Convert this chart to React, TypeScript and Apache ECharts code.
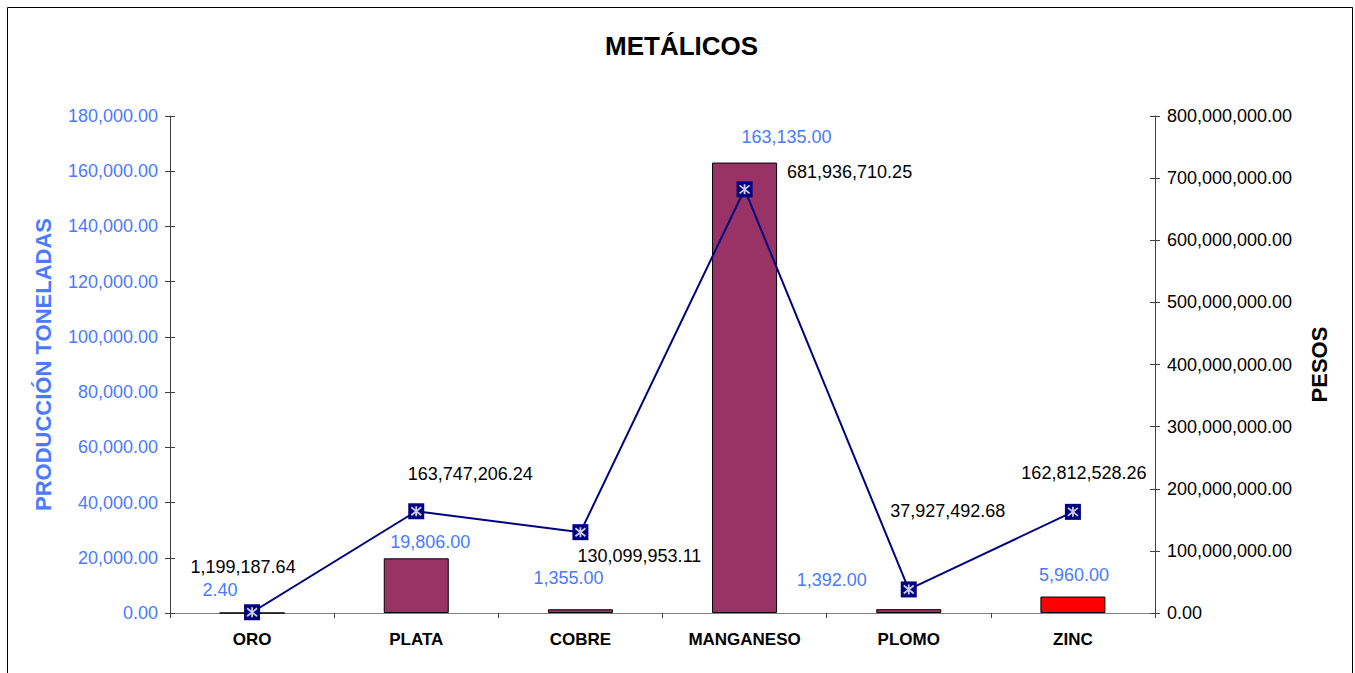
import React, { useEffect, useRef } from "react";
import * as echarts from "echarts";

const categories = ["ORO", "PLATA", "COBRE", "MANGANESO", "PLOMO", "ZINC"];
const production = [2.4, 19806, 1355, 163135, 1392, 5960];
const pesos = [1199187.64, 163747206.24, 130099953.11, 681936710.25, 37927492.68, 162812528.26];
const barColors = ["#993366", "#993366", "#993366", "#993366", "#993366", "#ff0000"];
const prodLabelOffsets = [[-32, -22], [14, -16], [-12, -31], [42, -26], [-77, -29], [1, -22]];
const pesosLabelOffsets = [[-9, -45], [54, -37], [59, 24], [105, -17], [39, -78], [11, -39]];

const BLUE = "#4a7aff";
const FONT = "Liberation Sans, Arial, sans-serif";

function fmt(n: number): string {
  const s = n.toFixed(2);
  const [i, d] = s.split(".");
  return i.replace(/\B(?=(\d{3})+(?!\d))/g, ",") + "." + d;
}

export default function App() {
  const ref = useRef<HTMLDivElement>(null);
  useEffect(() => {
    if (!ref.current) return;
    const chart = echarts.init(ref.current, null, { renderer: "svg" });
    const baseY = {
      type: "value" as const,
      splitLine: { show: false },
    };
    chart.setOption({
      animation: false,
      textStyle: { fontFamily: FONT },
      title: {
        text: "METÁLICOS",
        left: 600,
        top: 28,
        textStyle: { fontSize: 26, fontWeight: "bold", color: "#000", fontFamily: FONT },
      },
      graphic: [
        {
          type: "rect",
          shape: { x: 7.5, y: 7.5, width: 1345, height: 700 },
          style: { fill: "none", stroke: "#000", lineWidth: 1 },
          silent: true,
        },
      ],
      grid: { left: 170, right: 200, top: 116, bottom: 60 },
      xAxis: {
        type: "category",
        data: categories,
        axisLine: { lineStyle: { color: "#808080", width: 1 } },
        axisTick: { show: true, length: 5, lineStyle: { color: "#404040" } },
        axisLabel: { fontSize: 17, fontWeight: "bold", color: "#000", margin: 18, fontFamily: FONT },
      },
      yAxis: [
        {
          ...baseY,
          min: 0,
          max: 180000,
          interval: 20000,
          position: "left",
          name: "PRODUCCIÓN TONELADAS",
          nameLocation: "middle",
          nameRotate: 90,
          nameGap: 116,
          nameTextStyle: { fontSize: 22, fontWeight: "bold", color: BLUE, fontFamily: FONT },
          axisLine: { show: true, lineStyle: { color: "#404040" } },
          axisTick: { show: true, length: 5, lineStyle: { color: "#404040" } },
          axisLabel: { formatter: (v: number) => fmt(v), fontSize: 18, color: BLUE, margin: 12, fontFamily: FONT },
        },
        {
          ...baseY,
          min: 0,
          max: 800000000,
          interval: 100000000,
          position: "right",
          name: "PESOS",
          nameLocation: "middle",
          nameRotate: 90,
          nameGap: 153,
          nameTextStyle: { fontSize: 22, fontWeight: "bold", color: "#000", fontFamily: FONT },
          axisLine: { show: true, lineStyle: { color: "#404040" } },
          axisTick: { show: true, length: 5, lineStyle: { color: "#404040" } },
          axisLabel: { formatter: (v: number) => fmt(v), fontSize: 18, color: "#000", margin: 12, fontFamily: FONT },
        },
        {
          ...baseY,
          min: 0,
          max: 180000,
          interval: 20000,
          position: "left",
          axisLine: { show: false },
          axisTick: { show: true, inside: true, length: 5, lineStyle: { color: "#404040" } },
          axisLabel: { show: false },
        },
        {
          ...baseY,
          min: 0,
          max: 800000000,
          interval: 100000000,
          position: "right",
          axisLine: { show: false },
          axisTick: { show: true, inside: true, length: 5, lineStyle: { color: "#404040" } },
          axisLabel: { show: false },
        },
      ],
      series: [
        {
          type: "bar",
          yAxisIndex: 0,
          barWidth: 65,
          data: production.map((v, i) => ({
            value: v,
            itemStyle: { color: barColors[i], borderColor: "#000", borderWidth: 1 },
            label: { offset: [prodLabelOffsets[i][0], prodLabelOffsets[i][1] + 9] },
          })),
          label: {
            show: true,
            position: "top",
            distance: 0,
            formatter: (p: any) => fmt(p.value),
            fontSize: 18,
            color: BLUE,
            fontFamily: FONT,
          },
          z: 2,
        },
        {
          type: "line",
          yAxisIndex: 1,
          symbol: "rect",
          symbolSize: 16,
          lineStyle: { color: "#000080", width: 2 },
          itemStyle: { color: "#000080" },
          data: pesos.map((v, i) => ({
            value: v,
            label: { offset: pesosLabelOffsets[i] },
          })),
          label: {
            show: true,
            position: "inside",
            formatter: (p: any) => fmt(p.value),
            fontSize: 18,
            color: "#000",
            fontFamily: FONT,
          },
          z: 3,
        },
        {
          type: "scatter",
          yAxisIndex: 1,
          symbol: "path://M5 0 L5 10 M0 1 L10 9 M10 1 L0 9",
          symbolSize: [10, 10],
          itemStyle: { color: "none", borderColor: "#ffffff", borderWidth: 1.8 },
          data: pesos,
          z: 4,
          silent: true,
        },
      ],
    });
    return () => chart.dispose();
  }, []);
  return (
    <div
      ref={ref}
      style={{ position: "fixed", left: 0, top: 0, width: 1355, height: 673, background: "#fff" }}
    />
  );
}
